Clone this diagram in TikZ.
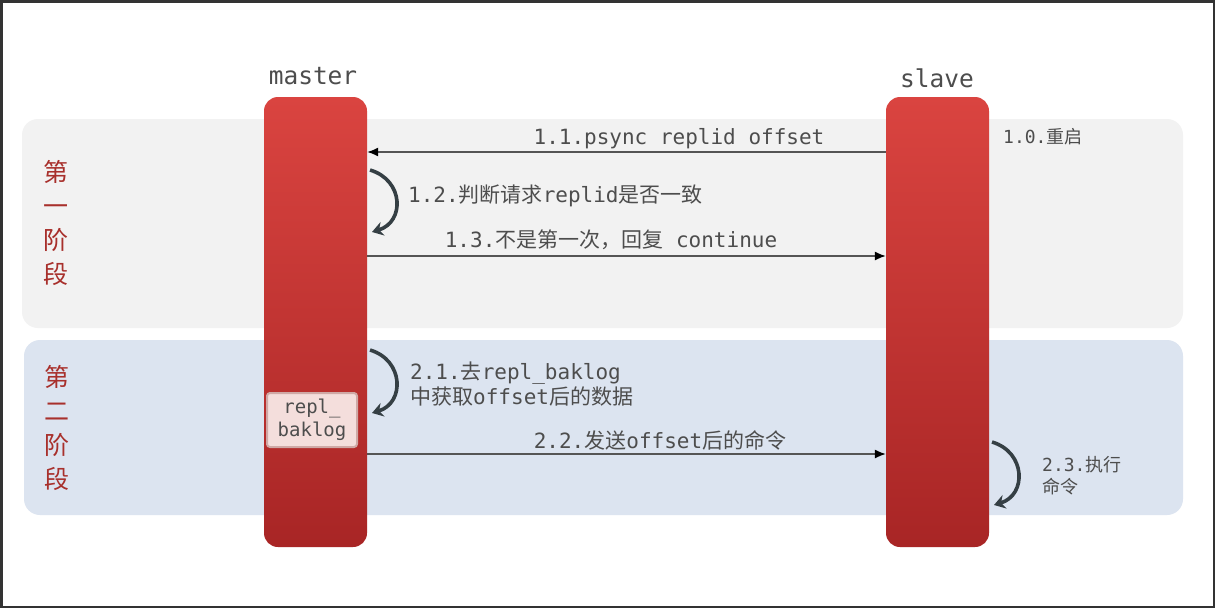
\documentclass[tikz,border=0pt]{standalone}
\usepackage{fontspec}
\setmonofont{DejaVu Sans Mono}
\newfontfamily\cjk{Noto Sans CJK SC}
\usetikzlibrary{arrows.meta}
\definecolor{txt}{HTML}{4D4D4D}
\definecolor{barTop}{HTML}{DA4440}
\definecolor{barBot}{HTML}{A82525}
\definecolor{phaseA}{HTML}{F2F2F2}
\definecolor{phaseB}{HTML}{DCE4F0}
\definecolor{phasered}{HTML}{A8302C}
\definecolor{loopc}{HTML}{353F44}
\definecolor{msgline}{HTML}{555555}
\definecolor{bakfill}{HTML}{F4DEDC}
\definecolor{bakedge}{HTML}{CFA9A6}
\definecolor{frame}{HTML}{333333}
\tikzset{
  phasebox/.style={rounded corners=16pt, draw=none},
  bar/.style={rectangle, rounded corners=14pt, top color=barTop, bottom color=barBot,
    minimum width=103pt, minimum height=450pt, inner sep=0pt, draw=none},
  msg/.style={draw=msgline, line width=1.3pt, -{Latex[length=11pt,width=9pt,black]}},
  loopar/.style={draw=loopc, line width=3.6pt, -{Stealth[length=11pt,width=14pt]}},
  lbl/.style={text=txt, font=\ttfamily\fontsize{21}{25}\selectfont, inner sep=0pt},
  smalllbl/.style={text=txt, font=\ttfamily\fontsize{18}{22}\selectfont, inner sep=0pt, align=left},
  head/.style={text=txt, font=\ttfamily\fontsize{24.5}{28}\selectfont, inner sep=0pt},
  phaselbl/.style={text=phasered, font=\cjk\fontsize{25}{34}\selectfont, align=center, inner sep=0pt},
  bakbox/.style={rectangle, fill=bakfill, draw=bakedge, line width=2pt, rounded corners=3pt,
    minimum width=90pt, minimum height=54pt, inner sep=0pt, align=center,
    text=txt, font=\ttfamily\fontsize{19}{23}\selectfont}
}
\begin{document}
\begin{tikzpicture}[x=1pt,y=-1pt]
\useasboundingbox (0,0) rectangle (1215,608);
\fill[white] (0,0) rectangle (1215,608);
\draw[frame, line width=2.5pt] (1.25,1.25) rectangle (1213.75,606.75);

% phase backgrounds
\fill[phaseA, phasebox] (22,119) rectangle (1183,328);
\fill[phaseB, phasebox] (24,340) rectangle (1183,515);

\node[phaselbl] (p1) at (56,223) {第\\一\\阶\\段};
\node[phaselbl] (p2) at (57,428) {第\\二\\阶\\段};

% lifelines
\node[bar] (master) at (315.5,322) {};
\node[bar] (slave) at (937.5,322) {};
\node[head] (mlbl) at (313,76) {master};
\node[head] (slbl) at (937,78) {slave};

% 1.1
\coordinate (s11) at (slave.west |- 0,152);
\coordinate (m11) at (master.east |- 0,152);
\draw[msg] (s11) -- (m11);
\node[lbl] (t11) at (679,139) {1.1.psync replid offset};
\node[smalllbl, anchor=west] (t10) at (1003,137) {1.0.{\cjk 重启}};

% 1.2
\coordinate (c12a) at (370,170);
\coordinate (c12b) at (372,232);
\draw[loopar] (c12a) .. controls (404,180) and (405,222) .. (c12b);
\node[lbl, anchor=west] (t12) at (408,196) {1.2.{\cjk 判断请求}replid{\cjk 是否一致}};

% 1.3
\coordinate (m13) at (master.east |- 0,256);
\coordinate (s13) at (slave.west |- 0,256);
\draw[msg] (m13) -- (s13);
\node[lbl] (t13) at (611,240) {1.3.{\cjk 不是第一次，回复} continue};

% 2.1
\coordinate (c21a) at (370,350);
\coordinate (c21b) at (372,413);
\draw[loopar] (c21a) .. controls (404,360) and (405,403) .. (c21b);
\node[lbl, anchor=west, align=left] (t21) at (410,384) {2.1.{\cjk 去}repl\_baklog\\{\cjk 中获取}offset{\cjk 后的数据}};

\node[bakbox] (bak) at (312,420) {repl\_\\baklog};

% 2.2
\coordinate (m22) at (master.east |- 0,454);
\coordinate (s22) at (slave.west |- 0,454);
\draw[msg] (m22) -- (s22);
\node[lbl] (t22) at (660,440) {2.2.{\cjk 发送}offset{\cjk 后的命令}};

% 2.3
\coordinate (c23a) at (992,442);
\coordinate (c23b) at (994,505);
\draw[loopar] (c23a) .. controls (1026,452) and (1027,495) .. (c23b);
\node[smalllbl, anchor=west] (t23) at (1042,476) {2.3.{\cjk 执行}\\{\cjk 命令}};
\end{tikzpicture}
\end{document}
